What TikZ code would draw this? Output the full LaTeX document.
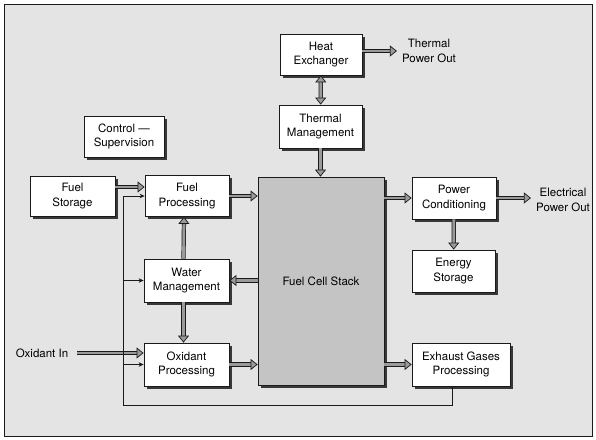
\documentclass[tikz,border=0pt]{standalone}
\usepackage{fontspec}
\setmainfont{TeX Gyre Heros}
\usetikzlibrary{arrows.meta,positioning,calc,shadows}
\def\wLight{0.6pt}
\def\wRegular{0.8pt}
\definecolor{cInk}{HTML}{1A1A1A}
\definecolor{cPaper}{HTML}{E4E4E4}
\definecolor{cStack}{HTML}{C4C4C4}
\definecolor{cPipe}{HTML}{9A9A9A}
\tikzset{
  plant/.style={font=\fontsize{11.5}{14.5}\selectfont, every node/.style={align=center}},
  box/.style={draw=cInk, line width=\wRegular, fill=white, inner sep=1pt,
    drop shadow={shadow xshift=2.5pt, shadow yshift=-2.5pt, fill=cInk, opacity=0.85}},
  stackbox/.style={box, fill=cStack},
  note/.style={inner sep=1pt},
  pipe/.style={draw=cInk, line width=0.7pt, double=cPipe, double distance=2.8pt,
    -{Triangle[length=7pt, width=11pt, fill=cPipe]}},
  pipe2/.style={pipe, {Triangle[length=7pt, width=11pt, fill=cPipe]}-{Triangle[length=7pt, width=11pt, fill=cPipe]}},
  feed/.style={draw=cInk, line width=\wLight, -{Stealth[length=5pt, width=4.5pt]}},
}

\begin{document}
\begin{tikzpicture}[plant, x=1pt, y=-1pt]
% pixel grid of the scan: 596 x 439, y grows downward
\useasboundingbox (0,0) rectangle (596,439);
\draw[fill=cPaper, draw=cInk, line width=1pt] (4,4) rectangle (592,436);

% ---- top: heat path
\node[box, minimum width=82pt, minimum height=41pt] (hx) at (321,54.5) {Heat\\ Exchanger};
\node[box, minimum width=83pt, minimum height=43pt] (tm) at (320.5,126.5) {Thermal\\ Management};
\node[note] (tpo) at (429,51) {Thermal\\ Power Out};
\node[box, minimum width=80pt, minimum height=41pt] (ctl) at (124,136.5) {Control ---\\ Supervision};

% ---- fuel / water / oxidant column
\node[box, minimum width=85pt, minimum height=40pt] (fs) at (72.5,196) {Fuel\\ Storage};
\node[box, minimum width=84pt, minimum height=41pt] (fp) at (187,196) {Fuel\\ Processing};
\node[box, minimum width=85pt, minimum height=43pt] (wm) at (186.5,280.5) {Water\\ Management};
\node[box, minimum width=85pt, minimum height=43pt] (op) at (186.5,364.5) {Oxidant\\ Processing};
\node[note] (oxin) at (42,353) {Oxidant In};

% ---- stack
\node[stackbox, minimum width=126pt, minimum height=208pt] (stack) at (321,281) {Fuel Cell Stack};

% ---- power side
\node[box, minimum width=84pt, minimum height=42pt] (pc) at (454,198) {Power\\ Conditioning};
\node[note] (epo) at (563,200) {Electrical\\ Power Out};
\node[box, minimum width=83pt, minimum height=42pt] (es) at (453.5,271) {Energy\\ Storage};
\node[box, minimum width=98pt, minimum height=43pt] (ex) at (461,364.5) {Exhaust Gases\\ Processing};

% ---- main flows
\draw[pipe2] (hx) -- (tm);
\draw[pipe, shorten >=4pt] (hx.east |- tpo) -- (tpo.west);
\draw[pipe] (tm) -- (tm |- stack.north);
\draw[pipe] ([yshift=9pt]fs.east) -- ([yshift=9pt]fs.east -| fp.west);
\draw[pipe] (fp.east) -- (fp.east -| stack.west);
\draw[pipe] ([xshift=-3pt]wm.north) -- ([xshift=-3pt]fp.south);
\draw[pipe] ([xshift=-3pt]wm.south) -- ([xshift=-3pt]op.north);
\draw[pipe] (wm.east -| stack.west) -- (wm.east);
\draw[pipe, shorten <=8pt] (oxin.east) -- (oxin.east -| op.west);
\draw[pipe] (op.east) -- (op.east -| stack.west);
\draw[pipe] (ex.west -| stack.east) -- (ex.west);
\draw[pipe] (pc.west -| stack.east) -- (pc.west);
\draw[pipe, shorten >=4pt] (pc.east) -- (pc.east -| epo.west);
\draw[pipe] (pc) -- (es);

% ---- exhaust return loop
\coordinate (ret) at (123,405);
\draw[feed] ([xshift=-9pt]ex.south) |- (ret) |- (fp.west);
\draw[feed] (ret |- wm.west) -- (wm.west);
\draw[feed] (ret |- op.west) -- (op.west);
\end{tikzpicture}
\end{document}
